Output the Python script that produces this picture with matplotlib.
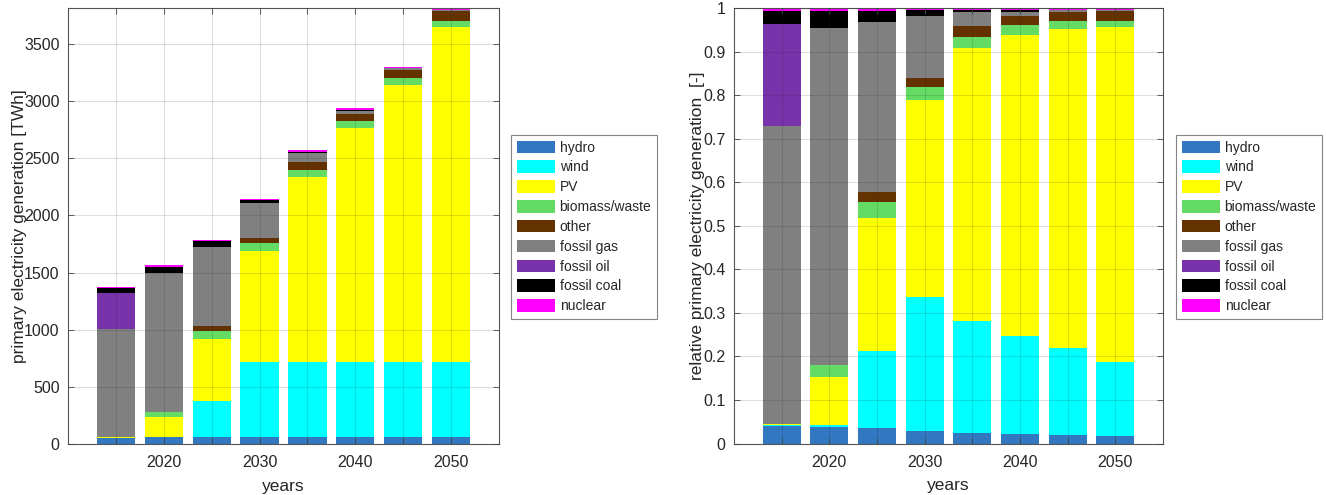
import numpy as np
import matplotlib
matplotlib.use("Agg")
import matplotlib.pyplot as plt

# Electricity generation by source [TWh]
years = [2015, 2020, 2025, 2030, 2035, 2040, 2045, 2050]
year_labels = ["", "2020", "", "2030", "", "2040", "", "2050"]

hydro = [55, 60, 63, 63, 63, 63, 63, 63]
wind = [4, 5, 315, 660, 660, 660, 660, 652]
pv = [1, 172, 545, 968, 1610, 2036, 2415, 2928]
biomass = [3, 45, 65, 66, 64, 63, 65, 55]
other = [0, 0, 42, 44, 66, 63, 66, 90]
fossil_gas = [940, 1210, 697, 305, 84, 30, 14, 6]
fossil_oil = [320, 0, 0, 0, 0, 0, 0, 0]
fossil_coal = [44, 60, 46, 29, 10, 8, 3, 2]
nuclear = [7, 10, 10, 10, 12, 14, 12, 12]

source_names = ["hydro", "wind", "PV", "biomass/waste", "other",
                "fossil gas", "fossil oil", "fossil coal", "nuclear"]
source_colors = ["#3278c0", "#00ffff", "#ffff00", "#64dc64", "#643200",
                 "#808080", "#7832aa", "#000000", "#ff00ff"]

series = np.array([hydro, wind, pv, biomass, other,
                   fossil_gas, fossil_oil, fossil_coal, nuclear], dtype=float)
totals = series.sum(axis=0)
shares = series / totals

plt.rcParams["font.family"] = ["Liberation Sans", "DejaVu Sans"]
axis_gray = "#262626"

fig = plt.figure(figsize=(13.26, 4.95), dpi=100)
ax1 = fig.add_axes([68 / 1326, 1 - 444.3 / 495, 431 / 1326, 436 / 495])
ax2 = fig.add_axes([734 / 1326, 1 - 443.5 / 495, 429 / 1326, 435.2 / 495])


def stacked(ax, data):
    bottom = np.zeros(len(years))
    handles = []
    for vals, name, col in zip(data, source_names, source_colors):
        h = ax.bar(years, vals, width=4.0, bottom=bottom, color=col,
                   edgecolor="none", label=name, zorder=1)
        handles.append(h)
        bottom = bottom + vals
    return handles


def style(ax):
    ax.set_xlim(2010, 2055)
    ax.set_xticks(years)
    ax.set_xticklabels(year_labels)
    ax.grid(True, color=(0.15, 0.15, 0.15), alpha=0.15, linewidth=0.8, zorder=3)
    ax.set_axisbelow(False)
    ax.tick_params(direction="in", top=True, right=True, length=4,
                   width=0.6, colors="#444444", labelcolor=axis_gray,
                   labelsize=11.5)
    ax.tick_params(axis="x", pad=8)
    ax.tick_params(axis="y", pad=6)
    for sp in ax.spines.values():
        sp.set_color("#555555")
        sp.set_linewidth(0.8)
    ax.set_xlabel("years", fontsize=12.5, color=axis_gray, labelpad=6)


handles = stacked(ax1, series)
style(ax1)
ax1.set_ylim(0, totals.max())
ax1.set_yticks(np.arange(0, 3501, 500))
ax1.set_ylabel("primary electricity generation [TWh]", fontsize=12.5,
               color=axis_gray, labelpad=-2)

stacked(ax2, shares)
style(ax2)
ax2.set_ylim(0, 1)
ax2.set_yticks(np.arange(0, 1.01, 0.1))
ax2.set_yticklabels(["0", "0.1", "0.2", "0.3", "0.4", "0.5", "0.6",
                     "0.7", "0.8", "0.9", "1"])
ax2.set_ylabel("relative primary electricity generation  [-]", fontsize=12.5,
               color=axis_gray, labelpad=-1)

for x0 in (511, 1176):
    leg = fig.legend(handles=handles, labels=source_names, loc="upper left",
                     bbox_to_anchor=(x0 / 1326, 1 - 135 / 495),
                     fontsize=10, frameon=True, fancybox=False,
                     handlelength=2.75, handleheight=1.0, handletextpad=0.35,
                     labelspacing=0.42, borderpad=0.4, borderaxespad=0)
    leg.get_frame().set_edgecolor("#666666")
    leg.get_frame().set_linewidth(0.8)
    for t in leg.get_texts():
        t.set_color(axis_gray)

fig.savefig("out.png", dpi=100)
